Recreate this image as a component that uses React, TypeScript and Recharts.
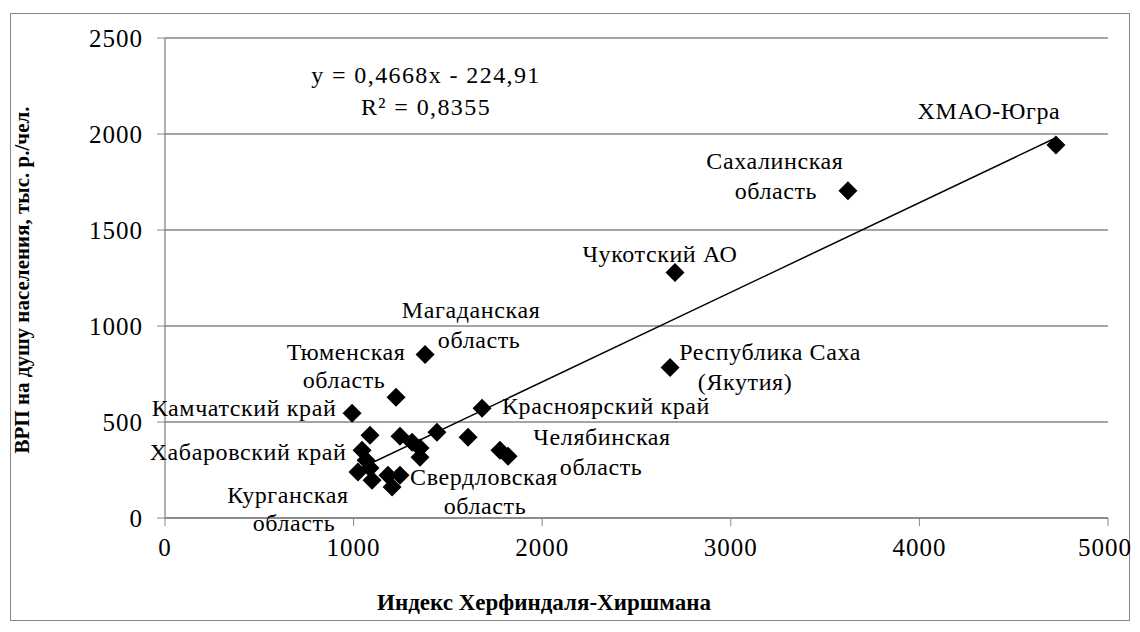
import React from "react";
import {
  ScatterChart,
  Scatter,
  XAxis,
  YAxis,
  CartesianGrid,
  ReferenceLine,
} from "recharts";

// Регионы: индекс Херфиндаля-Хиршмана (x) и ВРП на душу населения (y)
const REGIONS = [
  "ХМАО-Югра",
  "Сахалинская область",
  "Чукотский АО",
  "Республика Саха (Якутия)",
  "Магаданская область",
  "Тюменская область",
  "Камчатский край",
  "Красноярский край",
  "Челябинская область",
  "Свердловская область",
  "Хабаровский край",
  "Курганская область",
  "", "", "", "", "", "", "", "", "", "", "", "", "",
];
const HHI = [
  4724, 3621, 2704, 2678, 1379, 1225, 992, 1681, 1819, 1246, 1045, 1023,
  1087, 1246, 1442, 1607, 1776, 1066, 1087, 1098, 1182, 1204, 1310, 1352, 1352,
];
const GRP = [
  1943, 1704, 1278, 784, 852, 629, 545, 571, 322, 223, 353, 239,
  431, 426, 447, 421, 353, 301, 260, 197, 223, 161, 395, 364, 317,
];

const X_TICKS = [0, 1000, 2000, 3000, 4000, 5000];
const Y_TICKS = [0, 500, 1000, 1500, 2000, 2500];

// линейный тренд, как подписано на графике
const SLOPE = 0.4668;
const INTERCEPT = -224.91;
const EQUATION = "y = 0,4668x - 224,91";
const R2 = "R² = 0,8355";

const data = HHI.map((x, i) => ({ x, y: GRP[i], name: REGIONS[i] }));
const xMin = Math.min(...HHI);
const xMax = Math.max(...HHI);

// подписи: строки и сдвиг центра текста от точки
const LABELS: Record<string, [string, number, number][]> = {
  "ХМАО-Югра": [["ХМАО-Югра", -67, -34]],
  "Сахалинская область": [["Сахалинская", -73, -30], ["область", -72, 0]],
  "Чукотский АО": [["Чукотский АО", -15, -19]],
  "Республика Саха (Якутия)": [["Республика Саха", 100, -15], ["(Якутия)", 75, 15]],
  "Магаданская область": [["Магаданская", 46, -44], ["область", 54, -14]],
  "Тюменская область": [["Тюменская", -50, -45], ["область", -52, -17]],
  "Камчатский край": [["Камчатский край", -108, -5]],
  "Хабаровский край": [["Хабаровский край", -114, 2]],
  "Курганская область": [["Курганская", -70, 23], ["область", -64, 51]],
  "Свердловская область": [["Свердловская", 84, 2], ["область", 85, 31]],
  "Челябинская область": [["Челябинская", 94, -19], ["область", 93, 11]],
  "Красноярский край": [["Красноярский край", 124, -2]],
};

const FONT = "Liberation Serif, DejaVu Serif, serif";
const GRAY = "#868686";

const Diamond = (props: any) => {
  const { cx, cy } = props;
  const r = 9.5;
  return (
    <path
      d={`M${cx},${cy - r}L${cx + r},${cy}L${cx},${cy + r}L${cx - r},${cy}Z`}
      fill="#000"
    />
  );
};

const RegionLabels = (props: any) => {
  const { cx, cy, payload } = props;
  const lines = LABELS[payload?.name];
  return (
    <g>
      {lines &&
        lines.map(([t, dx, dy]) => (
          <text
            key={t}
            x={cx + dx}
            y={cy + dy}
            textAnchor="middle"
            dominantBaseline="central"
            style={{ fontFamily: FONT, letterSpacing: 0.6 }}
            fontSize={24}
            fill="#000"
          >
            {t}
          </text>
        ))}
    </g>
  );
};

export default function App() {
  const tick = { fontFamily: FONT, fontSize: 25, fill: "#000", letterSpacing: 1 };
  return (
    <div style={{ position: "relative", width: 1124, height: 616, fontFamily: FONT }}>
      <div
        style={{
          position: "absolute",
          left: 2,
          top: 5,
          width: 1118,
          height: 606,
          border: `1px solid ${GRAY}`,
        }}
      />
      <ScatterChart
        width={1124}
        height={616}
        margin={{ top: 30, right: 24, left: 0, bottom: 16 }}
        style={{ position: "absolute", left: 0, top: 0, fontFamily: FONT }}
      >
        <CartesianGrid vertical={false} stroke={GRAY} strokeWidth={1.3} />
        <XAxis
          type="number"
          dataKey="x"
          domain={[0, 5000]}
          ticks={X_TICKS}
          height={90}
          tick={tick}
          tickSize={8}
          tickMargin={12}
          stroke={GRAY}
          axisLine={{ stroke: GRAY, strokeWidth: 1.3 }}
          tickLine={{ stroke: GRAY }}
        />
        <YAxis
          type="number"
          dataKey="y"
          domain={[0, 2500]}
          ticks={Y_TICKS}
          width={157}
          tick={tick}
          tickSize={8}
          tickMargin={14}
          axisLine={{ stroke: GRAY, strokeWidth: 1.3 }}
          tickLine={{ stroke: GRAY }}
        />
        <ReferenceLine
          segment={[
            { x: xMin, y: SLOPE * xMin + INTERCEPT },
            { x: xMax, y: SLOPE * xMax + INTERCEPT },
          ]}
          stroke="#000"
          strokeWidth={1.5}
          ifOverflow="extendDomain"
        />
        <Scatter data={data} shape={Diamond} isAnimationActive={false} />
        <Scatter data={data} shape={RegionLabels} isAnimationActive={false} />
      </ScatterChart>
      <div
        style={{
          position: "absolute",
          left: 426 - 8 - 150,
          top: 51,
          width: 300,
          textAlign: "center",
          fontSize: 24,
          letterSpacing: 1.4,
          lineHeight: "32px",
          color: "#000",
        }}
      >
        <div>{EQUATION}</div>
        <div>{R2}</div>
      </div>
      <div
        style={{
          position: "absolute",
          left: 544 - 8 - 250,
          top: 582,
          width: 500,
          textAlign: "center",
          fontSize: 23,
          fontWeight: "bold",
          color: "#000",
        }}
      >
        Индекс Херфиндаля-Хиршмана
      </div>
      <div
        style={{
          position: "absolute",
          left: 14 - 250,
          top: 272 - 14,
          width: 500,
          height: 28,
          lineHeight: "28px",
          textAlign: "center",
          fontSize: 21,
          fontWeight: "bold",
          color: "#000",
          transform: "rotate(-90deg)",
        }}
      >
        ВРП на душу населения, тыс. р./чел.
      </div>
    </div>
  );
}
